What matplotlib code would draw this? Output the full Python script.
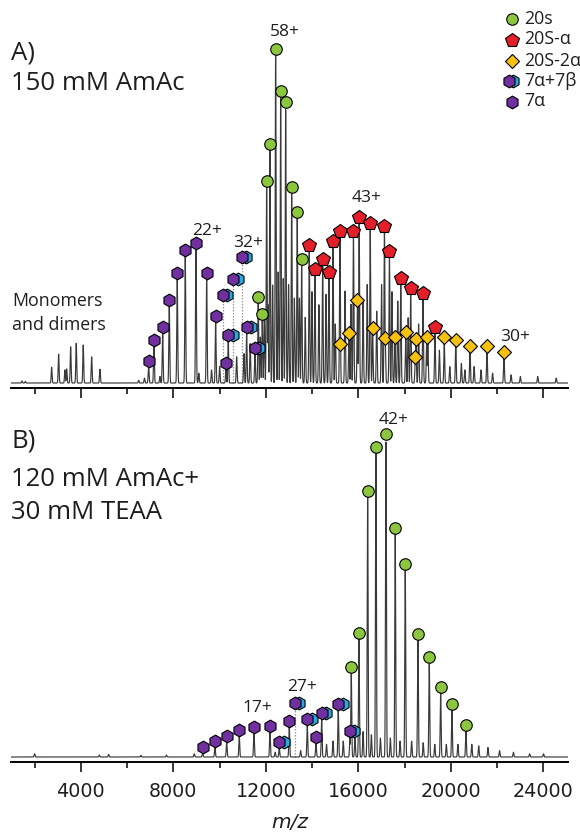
import numpy as np
import matplotlib
matplotlib.use("Agg")
import matplotlib.pyplot as plt
from matplotlib.transforms import ScaledTranslation

# ---------------- Panel A: 150 mM AmAc (relative intensity, %) ----------------
a_low_mz = [1450, 1600, 2737, 3039, 3312, 3386, 3558, 3800, 4103, 4466, 4825, 6500, 6750]
a_low_int = [0.6, 0.5, 4.8, 8.8, 4.0, 4.3, 11.1, 12.1, 11.6, 8.0, 4.2, 0.8, 1.5]

a_7a_mz = [6930, 7160, 7536, 7822, 8167, 8513, 8976, 9438, 9827, 10272]
a_7a_int = [5.0, 11.3, 15.3, 23.5, 31.6, 38.7, 40.8, 31.6, 18.6, 4.2]

a_7a7b_mz = [10130, 10588, 10951, 10372, 11167, 11526]
a_7a7b_int = [24.9, 29.8, 36.5, 12.8, 15.3, 8.9]
a_7a7b_resolved = [False, False, False, True, True, True]

a_20s_mz = [11669, 11842, 12032, 12175, 12421, 12637, 12854, 13113, 13355, 13545]
a_20s_int = [24.4, 19.2, 59.8, 71.0, 100.0, 87.2, 83.8, 57.9, 50.3, 36.0]

a_20sa_mz = [13874, 14120, 14453, 14727, 14900, 15201, 15785, 16031, 16511,
             17125, 17341, 17830, 18258, 18790, 19309]
a_20sa_int = [40.2, 32.8, 35.9, 32.1, 41.6, 44.5, 44.5, 48.9, 46.9,
              46.1, 38.4, 30.3, 27.2, 25.5, 15.2]

a_20s2a_mz = [15201, 15590, 15958, 16615, 17160, 17579, 18046, 18487, 18457,
              18950, 19711, 20208, 20822, 21557, 22292]
a_20s2a_int = [10.5, 13.8, 23.7, 15.3, 12.3, 12.6, 14.1, 12.0, 6.5,
               12.5, 12.5, 11.6, 9.8, 9.8, 8.0]

# unassigned peaks between the labelled charge states
a_other_mz = [7420, 9100, 9650, 10000, 10735, 11050, 11320, 11760, 11930, 12090,
              12290, 12530, 12750, 12980, 13230, 13450, 13700, 13990, 14290, 14600,
              15000, 15420, 15680, 16200, 16380, 16790, 17000, 17450, 17700, 18150,
              18600, 19000, 19500, 19950, 20450, 20600, 21000, 21300, 21800, 22600,
              23000, 23750, 24550]
a_other_int = [2.0, 3.0, 4.0, 5.0, 8.0, 9.0, 12.0, 14.0, 20.0, 24.0,
               30.0, 34.0, 32.0, 30.0, 26.0, 26.0, 20.0, 28.0, 24.0, 27.0,
               18.0, 28.0, 24.0, 25.0, 30.0, 22.0, 30.0, 28.0, 25.0, 20.0,
               18.0, 12.0, 10.0, 5.0, 6.0, 4.0, 5.0, 4.0, 3.0, 2.5,
               2.0, 2.0, 1.5]

# ---------------- Panel B: 120 mM AmAc + 30 mM TEAA ----------------
b_low_mz = [2000, 4800, 5200, 6600, 7700, 8900]
b_low_int = [1.0, 0.6, 0.8, 0.5, 0.6, 1.0]

b_7a_mz = [9265, 9797, 10303, 10848, 11483, 12175, 13010, 14163]
b_7a_int = [1.4, 3.2, 4.7, 6.6, 7.5, 8.0, 9.5, 4.3]

b_7a7b_mz = [12577, 13256, 13788, 14410, 15128, 15634]
b_7a7b_int = [2.9, 15.1, 10.0, 11.9, 14.8, 6.4]
b_7a7b_resolved = [True, False, True, True, True, True]

b_20s_mz = [15690, 16023, 16399, 16757, 17190, 17591, 18024, 18573, 19062, 19555, 20043, 20648]
b_20s_int = [26.4, 37.4, 82.0, 96.0, 100.0, 70.5, 59.0, 37.0, 29.6, 20.3, 14.8, 8.2]

b_other_mz = [12400, 13500, 14620, 14900, 15344, 15850, 16200, 16560, 16950, 17380,
              17800, 18300, 18800, 19300, 19800, 20300, 20900, 21200, 21600, 22100,
              22700, 23400, 24000]
b_other_int = [1.5, 2.0, 4.0, 5.0, 5.0, 6.0, 8.0, 7.0, 6.0, 6.0,
               5.0, 5.0, 4.5, 4.0, 4.0, 4.0, 4.0, 3.5, 3.0, 2.0,
               1.5, 1.0, 1.0]

x_major = [4000, 8000, 12000, 16000, 20000, 24000]
x_minor = [2000, 6000, 10000, 14000, 18000, 22000]
x_labels = ["4000", "8000", "12000", "16000", "20000", "24000"]

legend_labels = ["20s", "20S-\u03b1", "20S-2\u03b1", "7\u03b1+7\u03b2", "7\u03b1"]

# ---------------- styling ----------------
C_GREEN = "#8cc63f"
C_RED = "#e3202a"
C_YELLOW = "#f7c10f"
C_PURPLE = "#7030a0"
C_BLUE = "#2aa8e0"
C_TRACE = "#3a3a3a"
C_TEXT = "#1e1e1e"
TEXT_FONT = ["Open Sans", "DejaVu Sans"]

W, H = 580, 839
fig = plt.figure(figsize=(W / 100, H / 100), dpi=100)


def px_axes(left, top, right, bottom):
    return fig.add_axes([left / W, 1 - bottom / H, (right - left) / W, (bottom - top) / H])


axA = px_axes(11, 30, 568, 388)
axB = px_axes(11, 400, 568, 762)
axA.set_ylim(-1.52, 107.6)
axB.set_ylim(-1.58, 112.7)

grid = np.arange(900, 25200, 4.0)


def spectrum(ax, groups, sigma=19.0):
    y = np.zeros_like(grid)
    for mzs, ints in groups:
        for m, h in zip(mzs, ints):
            y = np.maximum(y, h * np.exp(-0.5 * ((grid - m) / sigma) ** 2))
    ax.plot(grid, y, color=C_TRACE, lw=0.85, zorder=2)


def shifted(ax, dx, dy):
    return ax.transData + ScaledTranslation(dx / 100, dy / 100, fig.dpi_scale_trans)


MK = dict(linestyle="none", markeredgecolor="black", markeredgewidth=0.8, clip_on=False)
MS_CIRCLE, MS_PENT, MS_DIAM, MS_HEX = 8.3, 10, 7.3, 9.2


def mark(ax, mzs, ints, marker, color, ms, dy=6, z=4):
    ax.plot(mzs, ints, marker=marker, color=color, ms=ms, transform=shifted(ax, 0, dy),
            zorder=z, **MK)


def mark_mixed(ax, mzs, ints, resolved, dy=6):
    for m, h, r in zip(mzs, ints, resolved):
        if not r:
            ax.plot([m, m], [0, h], color="#9a9a9a", lw=0.9, ls=(0, (1.2, 1.2)), zorder=1.5)
    ax.plot(mzs, ints, marker="h", color=C_BLUE, ms=MS_HEX, transform=shifted(ax, 4.5, dy),
            zorder=4, **MK)
    ax.plot(mzs, ints, marker="h", color=C_PURPLE, ms=MS_HEX, transform=shifted(ax, 0, dy),
            zorder=4.5, **MK)


def resolved_only(mzs, ints, flags):
    return [m for m, f in zip(mzs, flags) if f], [h for h, f in zip(ints, flags) if f]


# ---- panel A ----
spectrum(axA, [(a_low_mz, a_low_int), (a_7a_mz, a_7a_int),
               resolved_only(a_7a7b_mz, a_7a7b_int, a_7a7b_resolved),
               (a_20s_mz, a_20s_int), (a_20sa_mz, a_20sa_int),
               (a_20s2a_mz, a_20s2a_int), (a_other_mz, a_other_int)])
mark(axA, a_20sa_mz, a_20sa_int, "p", C_RED, MS_PENT)
mark(axA, a_20s2a_mz, a_20s2a_int, "D", C_YELLOW, MS_DIAM, dy=5, z=4.2)
mark(axA, a_20s_mz, a_20s_int, "o", C_GREEN, MS_CIRCLE, z=4.4)
mark(axA, a_7a_mz, a_7a_int, "h", C_PURPLE, MS_HEX)
mark_mixed(axA, a_7a7b_mz, a_7a7b_int, a_7a7b_resolved)

# ---- panel B ----
spectrum(axB, [(b_low_mz, b_low_int), (b_7a_mz, b_7a_int),
               resolved_only(b_7a7b_mz, b_7a7b_int, b_7a7b_resolved),
               (b_20s_mz, b_20s_int), (b_other_mz, b_other_int)])
mark(axB, b_20s_mz, b_20s_int, "o", C_GREEN, MS_CIRCLE, z=4.4)
mark(axB, b_7a_mz, b_7a_int, "h", C_PURPLE, MS_HEX)
mark_mixed(axB, b_7a7b_mz, b_7a7b_int, b_7a7b_resolved)

# charge-state labels
LBL = dict(textcoords="offset pixels", ha="center", va="center", fontsize=12.5,
           family=TEXT_FONT, color=C_TEXT, annotation_clip=False)
axA.annotate("58+", (a_20s_mz[4], a_20s_int[4]), xytext=(9, 23), **LBL)
axA.annotate("22+", (a_7a_mz[6], a_7a_int[6]), xytext=(11, 18), **LBL)
axA.annotate("32+", (a_7a7b_mz[2], a_7a7b_int[2]), xytext=(6, 20), **LBL)
axA.annotate("43+", (a_20sa_mz[7], a_20sa_int[7]), xytext=(7, 25), **LBL)
axA.annotate("30+", (a_20s2a_mz[14], a_20s2a_int[14]), xytext=(11, 20), **LBL)
axB.annotate("42+", (b_20s_mz[4], b_20s_int[4]), xytext=(8, 20), **LBL)
axB.annotate("17+", (b_7a_mz[4], b_7a_int[4]), xytext=(3, 25), **LBL)
axB.annotate("27+", (b_7a7b_mz[1], b_7a7b_int[1]), xytext=(7, 22), **LBL)

# axes styling
for ax in (axA, axB):
    ax.set_xlim(980, 25060)
    for s in ("top", "right", "left"):
        ax.spines[s].set_visible(False)
    ax.spines["bottom"].set_linewidth(1.4)
    ax.set_yticks([])
    ax.set_xticks(x_major)
    ax.set_xticks(x_minor, minor=True)
    ax.tick_params(axis="x", which="major", length=7.5, width=1.1, direction="out")
    ax.tick_params(axis="x", which="minor", length=4.3, width=1.1, direction="out")
    ax.patch.set_visible(False)
axA.set_xticklabels([])
axB.set_xticklabels(x_labels, fontsize=13.8, color=C_TEXT, family="DejaVu Sans")
axB.tick_params(axis="x", which="major", pad=7)

fig.text(290 / W, 1 - 823 / H, "m/z", ha="center", va="center", fontsize=14.5,
         style="italic", family="DejaVu Sans", color=C_TEXT)


# panel titles
def ptext(x, y_base, s, size):
    fig.text(x / W, 1 - y_base / H, s, ha="left", va="baseline", fontsize=size,
             family=TEXT_FONT, color=C_TEXT)


ptext(11, 60, "A)", 18.5)
ptext(11, 90.5, "150 mM AmAc", 18.5)
ptext(11, 448, "B)", 18.5)
ptext(11, 486, "120 mM AmAc+", 18.5)
ptext(11, 519, "30 mM TEAA", 18.5)
ptext(12, 306.5, "Monomers", 12.8)
ptext(12, 330, "and dimers", 12.8)

# legend (drawn in figure pixel space)
lg = fig.add_axes([0, 0, 1, 1])
lg.set_xlim(0, W)
lg.set_ylim(H, 0)
lg.axis("off")
rows = [18.5, 39.5, 60.5, 81, 101.5]
lg.plot(511.5, rows[0], marker="o", color=C_GREEN, ms=MS_CIRCLE, **MK)
lg.plot(511.5, rows[1], marker="p", color=C_RED, ms=MS_PENT, **MK)
lg.plot(511.5, rows[2], marker="D", color=C_YELLOW, ms=MS_DIAM, **MK)
lg.plot(513, rows[3], marker="h", color=C_BLUE, ms=MS_HEX, **MK)
lg.plot(508.5, rows[3], marker="h", color=C_PURPLE, ms=MS_HEX, **MK)
lg.plot(511.5, rows[4], marker="h", color=C_PURPLE, ms=MS_HEX, **MK)
for r, s in zip(rows, legend_labels):
    lg.text(524, r, s, ha="left", va="center", fontsize=12.8, family=TEXT_FONT,
            color=C_TEXT)

fig.savefig("out.png", dpi=100)
